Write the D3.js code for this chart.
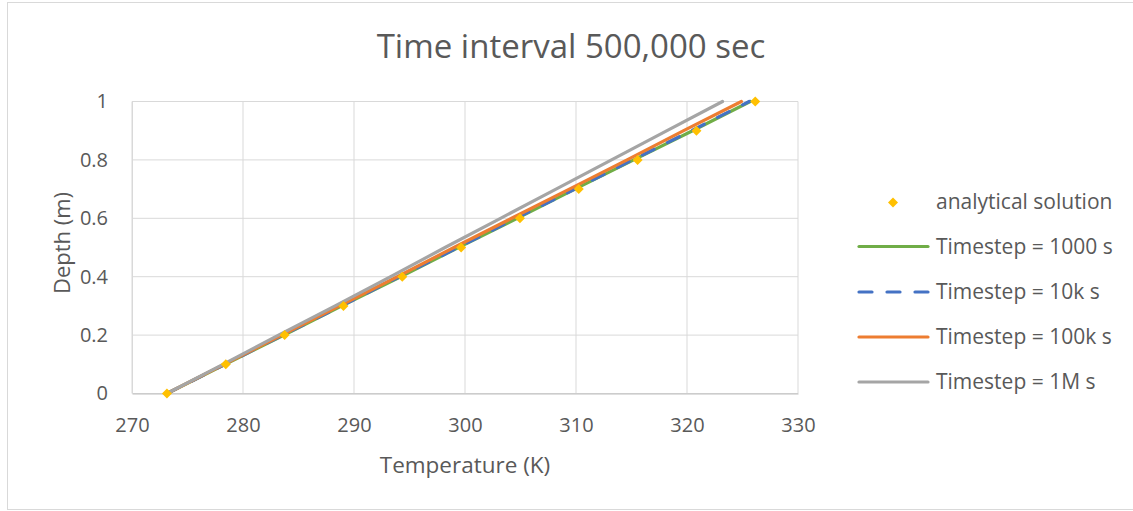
<!DOCTYPE html>
<html><head><meta charset="utf-8">
<script src="https://cdn.jsdelivr.net/npm/d3@7"></script>
<style>body{margin:0;background:#fff}svg{display:block}text{font-family:"Open Sans","Liberation Sans",sans-serif;fill:#595959}</style>
</head><body><svg id="c" width="1133" height="511"></svg>
<script>
const depths = [0,0.1,0.2,0.3,0.4,0.5,0.6,0.7,0.8,0.9,1];
const analytical = [273.15,278.45,283.75,289.05,294.35,299.65,304.95,310.25,315.55,320.85,326.15];
const ts1000 = [273.15,278.4,283.7,288.9,294.2,299.4,304.7,309.9,315.2,320.5,325.7];
const ts10k = [273.15,278.4,283.6,288.9,294.1,299.4,304.6,309.9,315.1,320.4,325.6];
const ts100k = [273.15,278.3,283.5,288.7,293.9,299.0,304.2,309.4,314.6,319.7,324.9];
const ts1M = [273.15,278.2,283.2,288.3,293.3,298.2,303.2,308.2,313.2,318.2,323.2];
const xTicks = [270,280,290,300,310,320,330];
const yTicks = [0,0.2,0.4,0.6,0.8,1];
const seriesNames = ["Timestep = 1000 s","Timestep = 10k s","Timestep = 100k s","Timestep = 1M s"];
const seriesColors = ["#70ad47","#4472c4","#ed7d31","#a5a5a5"];
const seriesData = [ts1000, ts10k, ts100k, ts1M];

const svg = d3.select("#c");
svg.append("rect").attr("x",7.5).attr("y",2.5).attr("width",1130).attr("height",507).attr("fill","#fff").attr("stroke","#d9d9d9");
const x = d3.scaleLinear().domain([270,330]).range([132,798]);
const y = d3.scaleLinear().domain([0,1]).range([393.5,101.5]);

// gridlines
svg.append("g").selectAll("line").data(xTicks).join("line")
  .attr("x1",d=>x(d)).attr("x2",d=>x(d)).attr("y1",y(0)).attr("y2",y(1))
  .attr("stroke","#d9d9d9").attr("stroke-width",1);
svg.append("g").selectAll("line").data(yTicks).join("line")
  .attr("x1",x(270)).attr("x2",x(330)).attr("y1",d=>y(d)).attr("y2",d=>y(d))
  .attr("stroke","#d9d9d9").attr("stroke-width",1);

// axes
const xa = svg.append("g").attr("transform",`translate(0,${y(0)})`)
  .call(d3.axisBottom(x).tickValues(xTicks).tickSize(0).tickPadding(24).tickFormat(d3.format("d")));
xa.select(".domain").attr("stroke","#bfbfbf");
xa.selectAll("text").attr("font-size",20).style("fill","#595959").style("font-family","'Open Sans',sans-serif");
const ya = svg.append("g").attr("transform",`translate(${x(270)},0)`)
  .call(d3.axisLeft(y).tickValues(yTicks).tickSize(0).tickPadding(24).tickFormat(d=>String(d)));
ya.select(".domain").attr("stroke","#d9d9d9");
ya.selectAll("text").attr("font-size",20).style("fill","#595959").style("font-family","'Open Sans',sans-serif");

// lines
const line = d3.line().x(d=>x(d[0])).y(d=>y(d[1]));
seriesData.forEach((s,i)=>{
  svg.append("path").datum(s.map((t,j)=>[t,depths[j]])).attr("d",line)
    .attr("fill","none").attr("stroke",seriesColors[i]).attr("stroke-width",3.2)
    .attr("stroke-linecap","round")
    .attr("stroke-dasharray", i===1 ? "13,15" : null);
});

// markers
const diamond = d3.symbol().type(d3.symbolDiamond2).size(64);
svg.append("g").selectAll("path").data(analytical.map((t,j)=>[t,depths[j]])).join("path")
  .attr("d",diamond).attr("transform",d=>`translate(${x(d[0])},${y(d[1])})`).attr("fill","#ffc000");

// title & axis titles
svg.append("text").attr("x",571).attr("y",58).attr("text-anchor","middle").attr("font-size",33).text("Time interval 500,000 sec");
svg.append("text").attr("x",465).attr("y",473).attr("text-anchor","middle").attr("font-size",22.5).text("Temperature (K)");
svg.append("text").attr("transform","translate(70,243) rotate(-90)").attr("text-anchor","middle").attr("font-size",22).text("Depth (m)");

// legend
const lg = svg.append("g");
lg.append("path").attr("d",diamond).attr("transform","translate(893,202.5)").attr("fill","#ffc000");
lg.append("text").attr("x",936).attr("y",209).attr("font-size",21).text("analytical solution");
const ly = [246.5,292,337,382];
seriesNames.forEach((n,i)=>{
  lg.append("line").attr("x1",859).attr("x2",928).attr("y1",ly[i]).attr("y2",ly[i])
    .attr("stroke",seriesColors[i]).attr("stroke-width",3.2).attr("stroke-linecap","round")
    .attr("stroke-dasharray", i===1 ? "13,15" : null);
  lg.append("text").attr("x",936).attr("y",ly[i]+7).attr("font-size",21).text(n);
});
</script></body></html>
